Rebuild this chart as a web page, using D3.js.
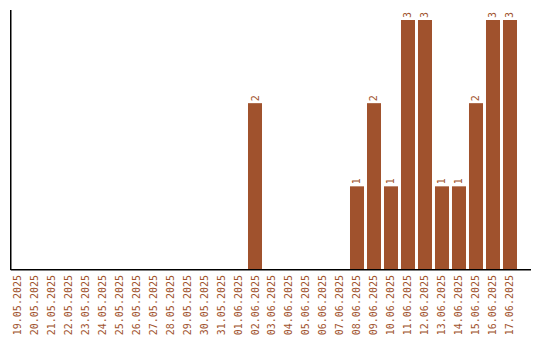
<!DOCTYPE html>
<html>
<head>
<meta charset="utf-8">
<script src="https://cdn.jsdelivr.net/npm/d3@7"></script>
<style>
  body { margin: 0; background: #fff; }
  text { font-family: "DejaVu Sans Mono", monospace; }
</style>
</head>
<body>
<div id="chart"></div>
<script>
// dates and counts
var dates = ["19.05.2025", "20.05.2025", "21.05.2025", "22.05.2025", "23.05.2025",
    "24.05.2025", "25.05.2025", "26.05.2025", "27.05.2025", "28.05.2025",
    "29.05.2025", "30.05.2025", "31.05.2025", "01.06.2025", "02.06.2025",
    "03.06.2025", "04.06.2025", "05.06.2025", "06.06.2025", "07.06.2025",
    "08.06.2025", "09.06.2025", "10.06.2025", "11.06.2025", "12.06.2025",
    "13.06.2025", "14.06.2025", "15.06.2025", "16.06.2025", "17.06.2025"];
var counts = [0, 0, 0, 0, 0, 0, 0, 0, 0, 0,
    0, 0, 0, 0, 2, 0, 0, 0, 0, 0,
    1, 2, 1, 3, 3, 1, 1, 2, 3, 3];

var width = 540, height = 340;
var barColor = "#a0522d";

var svg = d3.select("#chart").append("svg")
    .attr("width", width)
    .attr("height", height);

var x = d3.scaleBand()
    .domain(dates)
    .range([10, 517])
    .paddingInner(0.176)
    .paddingOuter(0);

var y = d3.scaleLinear()
    .domain([0, 3])
    .range([269.5, 20]);

var data = dates.map(function(d, i){ return {date: d, count: counts[i]}; });

// bars
svg.selectAll("rect.bar")
    .data(data.filter(function(d){ return d.count > 0; }))
    .enter().append("rect")
    .attr("class", "bar")
    .attr("x", function(d){ return x(d.date); })
    .attr("y", function(d){ return y(d.count); })
    .attr("width", x.bandwidth())
    .attr("height", function(d){ return y(0) - y(d.count); })
    .attr("fill", barColor);

// value labels, rotated like the dates
svg.selectAll("text.val")
    .data(data.filter(function(d){ return d.count > 0; }))
    .enter().append("text")
    .attr("class", "val")
    .attr("transform", function(d){
        return "translate(" + (x(d.date) + x.bandwidth() / 2 + 3.5) + "," + (y(d.count) - 2) + ") rotate(-90)";
    })
    .attr("font-size", "10px")
    .attr("fill", barColor)
    .text(function(d){ return d.count; });

// date labels
var xAxis = svg.append("g")
    .attr("transform", "translate(0,271)")
    .call(d3.axisBottom(x).tickSize(0).tickPadding(0));
xAxis.select(".domain").remove();
xAxis.selectAll("text")
    .attr("font-family", "DejaVu Sans Mono, monospace")
    .attr("font-size", "10px")
    .attr("fill", barColor)
    .attr("text-anchor", "end")
    .attr("dy", "0.35em")
    .attr("transform", "translate(0,4) rotate(-90)")
    .attr("x", 0)
    .attr("y", 0);

// axis lines
var lineX = d3.scaleLinear().domain([0, 1]).range([10.75, 531]);
var lineY = d3.scaleLinear().domain([0, 1]).range([270, 10]);
svg.append("line")
    .attr("x1", lineX(0)).attr("x2", lineX(1))
    .attr("y1", lineY(0) - 0.25).attr("y2", lineY(0) - 0.25)
    .attr("stroke", "#000").attr("stroke-width", 1.5);
svg.append("line")
    .attr("x1", lineX(0)).attr("x2", lineX(0))
    .attr("y1", lineY(0)).attr("y2", lineY(1))
    .attr("stroke", "#000").attr("stroke-width", 1.5);
</script>
</body>
</html>
